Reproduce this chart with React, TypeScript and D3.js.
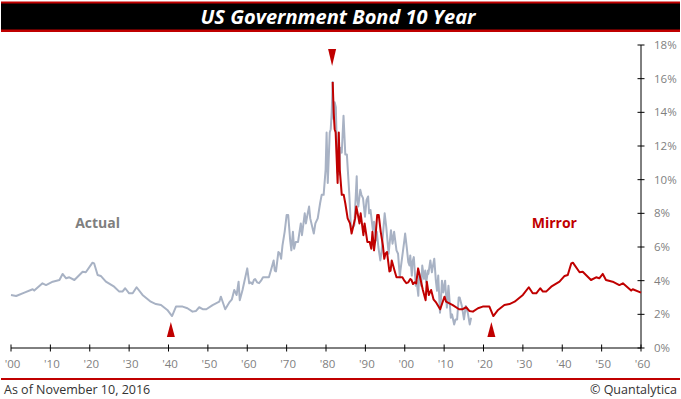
import React, { useEffect } from 'react';
import * as d3 from 'd3';

// actual 10y yield, [year, percent]
const actualSeries: [number, number][] = [
  [1900.0, 3.15], [1901.3, 3.09], [1903.4, 3.29], [1905.5, 3.49], [1905.9, 3.41],
  [1908.0, 3.84], [1908.9, 3.74], [1910.6, 3.94], [1912.3, 4.04], [1913.1, 4.4],
  [1914.0, 4.14], [1914.8, 4.2], [1916.1, 4.04], [1918.2, 4.53], [1919.0, 4.5],
  [1920.7, 5.07], [1921.1, 5.03], [1922.0, 4.34], [1922.8, 4.28], [1924.1, 3.94],
  [1926.2, 3.64], [1927.5, 3.35], [1928.3, 3.35], [1929.0, 3.55], [1930.0, 3.25],
  [1930.9, 3.25], [1931.9, 3.61], [1933.4, 3.15], [1935.5, 2.75], [1936.8, 2.61],
  [1938.1, 2.55], [1939.7, 2.26], [1940.9, 1.9], [1941.9, 2.46], [1943.6, 2.46],
  [1944.8, 2.36], [1946.1, 2.16], [1947.0, 2.2], [1947.8, 2.42], [1948.8, 2.3],
  [1949.6, 2.3], [1951.2, 2.55], [1952.9, 2.75], [1953.3, 3.05], [1953.6, 2.85],
  [1954.4, 2.3], [1955.4, 2.69], [1956.1, 2.89], [1956.7, 3.45], [1957.3, 3.15],
  [1957.8, 3.94], [1958.1, 2.84], [1958.8, 3.45], [1960.0, 4.73], [1960.5, 3.84],
  [1960.9, 3.9], [1961.3, 3.8], [1961.7, 4.05], [1962.0, 4.1], [1962.5, 3.9],
  [1963.0, 3.85], [1963.5, 4.0], [1964.0, 4.2], [1964.5, 4.2], [1965.0, 4.2],
  [1965.5, 4.2], [1966.0, 4.6], [1966.7, 5.2], [1967.0, 4.6], [1967.3, 4.55],
  [1967.9, 5.7], [1968.3, 5.6], [1968.6, 5.3], [1968.95, 6.1], [1969.5, 6.9],
  [1970.0, 7.9], [1970.4, 7.9], [1970.9, 6.4], [1971.2, 5.8], [1971.6, 6.9],
  [1971.9, 5.9], [1972.3, 6.3], [1972.9, 6.3], [1973.6, 7.4], [1973.9, 6.7],
  [1974.6, 8.0], [1974.9, 7.4], [1975.2, 7.8], [1975.7, 8.4], [1976.0, 7.7],
  [1976.9, 6.8], [1977.3, 7.4], [1977.9, 7.7], [1978.5, 8.6], [1978.9, 9.1],
  [1979.4, 9.1], [1979.9, 10.6], [1980.15, 12.8], [1980.45, 9.8], [1980.95, 12.8],
  [1981.2, 13.0], [1981.45, 14.0], [1981.7, 15.8], [1981.9, 13.6], [1982.2, 14.6],
  [1982.5, 14.3], [1982.9, 10.4], [1983.3, 10.3], [1983.6, 11.9], [1984.0, 11.6],
  [1984.45, 13.8], [1984.9, 11.5], [1985.3, 11.5], [1985.9, 9.2], [1986.3, 7.3],
  [1986.65, 7.1], [1986.95, 7.2], [1987.2, 7.3], [1987.8, 10.2], [1987.95, 8.9],
  [1988.2, 8.4], [1988.7, 9.4], [1989.0, 9.1], [1989.4, 8.9], [1989.9, 7.8],
  [1990.3, 8.8], [1990.7, 9.0], [1990.95, 8.0], [1991.3, 8.2], [1991.9, 7.0],
  [1992.2, 7.5], [1992.7, 6.4], [1992.9, 6.9], [1993.3, 6.0], [1993.8, 5.2],
  [1994.1, 5.7], [1994.9, 8.0], [1995.3, 7.2], [1995.9, 5.6], [1996.5, 7.0],
  [1996.9, 6.2], [1997.3, 6.9], [1997.9, 5.8], [1998.3, 5.6], [1998.75, 4.2],
  [1998.9, 4.6], [1999.9, 6.4], [2000.1, 6.8], [2000.5, 6.0], [2000.9, 5.1],
  [2001.2, 4.9], [2001.4, 5.5], [2001.8, 4.3], [2001.95, 5.1], [2002.3, 5.4],
  [2002.8, 3.7], [2003.0, 4.0], [2003.45, 3.1], [2003.65, 4.5], [2004.2, 3.7],
  [2004.45, 4.9], [2004.9, 4.1], [2005.2, 4.6], [2005.45, 3.9], [2005.9, 4.6],
  [2006.0, 4.4], [2006.5, 5.2], [2006.9, 4.5], [2007.1, 4.8], [2007.5, 5.3],
  [2007.9, 4.0], [2008.2, 3.4], [2008.5, 4.3], [2008.95, 2.1], [2009.2, 2.9],
  [2009.45, 4.0], [2009.8, 3.3], [2010.25, 4.0], [2010.7, 2.4], [2011.1, 3.7],
  [2011.7, 1.8], [2012.0, 2.0], [2012.55, 1.4], [2012.9, 1.7], [2013.3, 1.7],
  [2013.7, 3.0], [2013.95, 3.0], [2014.5, 2.5], [2015.05, 1.7], [2015.5, 2.5],
  [2016.0, 2.1], [2016.5, 1.4], [2016.86, 1.8],
];

// mirrored path, [year, percent]
const mirrorSeries: [number, number][] = [
  [1981.7, 15.8], [1981.95, 14.0], [1982.2, 13.0], [1982.45, 12.8], [1982.95, 9.8],
  [1983.25, 12.8], [1983.5, 10.6], [1984.0, 9.1], [1984.5, 9.1], [1984.9, 8.6],
  [1985.5, 7.7], [1986.1, 7.4], [1986.5, 6.8], [1987.4, 7.7], [1987.7, 8.4],
  [1988.2, 7.8], [1988.5, 7.4], [1988.8, 8.0], [1989.5, 6.7], [1989.8, 7.4],
  [1990.5, 6.3], [1991.1, 6.3], [1991.5, 5.9], [1991.8, 6.9], [1992.2, 5.8],
  [1992.5, 6.4], [1993.0, 7.9], [1993.4, 7.9], [1993.9, 6.9], [1994.45, 6.1],
  [1994.8, 5.3], [1995.1, 5.6], [1995.5, 5.7], [1996.1, 4.55], [1996.4, 4.6],
  [1996.7, 5.2], [1997.4, 4.6], [1997.9, 4.2], [1998.4, 4.2], [1998.9, 4.2],
  [1999.4, 4.2], [1999.9, 4.0], [2000.4, 3.85], [2000.9, 3.9], [2001.4, 4.1],
  [2001.7, 4.05], [2002.1, 3.8], [2002.5, 3.9], [2002.9, 3.84], [2003.4, 4.73],
  [2004.6, 3.45], [2005.3, 2.84], [2005.6, 3.94], [2006.1, 3.15], [2006.7, 3.45],
  [2007.3, 2.89], [2008.0, 2.69], [2009.0, 2.3], [2009.8, 2.85], [2010.1, 3.05],
  [2010.5, 2.75], [2012.2, 2.55], [2013.8, 2.3], [2014.6, 2.3], [2015.6, 2.42],
  [2016.4, 2.2], [2017.3, 2.16], [2018.6, 2.36], [2019.8, 2.46], [2021.5, 2.46],
  [2022.5, 1.9], [2023.7, 2.26], [2025.3, 2.55], [2026.6, 2.61], [2027.9, 2.75],
  [2030.0, 3.15], [2031.5, 3.61], [2032.5, 3.25], [2033.4, 3.25], [2034.4, 3.55],
  [2035.1, 3.35], [2035.9, 3.35], [2037.2, 3.64], [2039.3, 3.94], [2040.6, 4.28],
  [2041.4, 4.34], [2042.3, 5.03], [2042.7, 5.07], [2044.4, 4.5], [2045.2, 4.53],
  [2047.3, 4.04], [2048.6, 4.2], [2049.4, 4.14], [2050.3, 4.4], [2051.1, 4.04],
  [2052.8, 3.94], [2054.5, 3.74], [2055.4, 3.84], [2057.5, 3.41], [2057.9, 3.49],
  [2060.0, 3.29],
];

const xTickYears = d3.range(1900, 2061, 10);
const xTickLabels = ["'00", "'10", "'20", "'30", "'40", "'50", "'60", "'70", "'80", "'90",
  "'00", "'10", "'20", "'30", "'40", "'50", "'60"];
const yTicks = [0, 2, 4, 6, 8, 10, 12, 14, 16, 18];

// turning points flagged with triangles
const markers = [
  { year: 1940.6, dir: 'up' },
  { year: 1981.55, dir: 'down' },
  { year: 2022.0, dir: 'up' },
];

const RED = '#c00000';
const GRAY = '#a8b2c4';

export default function App() {
  useEffect(() => {
    document.body.style.margin = '0';
  }, []);

  const width = 681;
  const height = 399;

  const x = d3.scaleLinear().domain([1900, 2060]).range([11, 641]);
  const y = d3.scaleLinear().domain([0, 18]).range([348, 45]);

  const line = d3
    .line<[number, number]>()
    .x((d) => x(d[0]))
    .y((d) => y(d[1]))
    .curve(d3.curveLinear);

  const tri = (m: { year: number; dir: string }) => {
    const cx = x(m.year);
    if (m.dir === 'up') {
      const tip = y(1.55);
      return `M${cx},${tip} L${cx + 4},${tip + 15} L${cx - 4},${tip + 15} Z`;
    }
    const tip = y(16.75);
    return `M${cx},${tip} L${cx + 4},${tip - 17} L${cx - 4},${tip - 17} Z`;
  };

  const axisFont = "'Open Sans', 'DejaVu Sans', sans-serif";

  return (
    <svg width={width} height={height} style={{ display: 'block', background: '#fff' }}>
      {/* title bar */}
      <rect x={1} y={1.5} width={679} height={30.5} fill={RED} />
      <rect x={1} y={3.5} width={679} height={26} fill="#000" />
      <text
        x={338}
        y={23.5}
        textAnchor="middle"
        fill="#fff"
        fontFamily="'Open Sans', Lato, sans-serif"
        fontStyle="italic"
        fontWeight="bold"
        fontSize={20}
      >
        US Government Bond 10 Year
      </text>

      {/* axes */}
      <line x1={x(1900)} x2={x(2060)} y1={y(0)} y2={y(0)} stroke="#000" strokeWidth={1} />
      <line x1={x(2060)} x2={x(2060)} y1={y(18)} y2={y(0)} stroke="#000" strokeWidth={1} />
      {xTickYears.map((yr, i) => (
        <g key={yr}>
          <line x1={x(yr)} x2={x(yr)} y1={y(0) - 3.5} y2={y(0) + 3.5} stroke="#000" />
          <text
            x={x(yr) + 1.5}
            y={368}
            textAnchor="middle"
            fill="#7f7f7f"
            fontFamily={axisFont}
            fontSize={11.5}
          >
            {xTickLabels[i]}
          </text>
        </g>
      ))}
      {yTicks.map((t) => (
        <g key={t}>
          <line x1={x(2060) - 3.5} x2={x(2060) + 3.5} y1={y(t)} y2={y(t)} stroke="#000" />
          <text
            x={654}
            y={y(t)}
            dy="0.35em"
            fill="#7f7f7f"
            fontFamily={axisFont}
            fontSize={11.5}
          >
            {t}%
          </text>
        </g>
      ))}

      {/* series */}
      <path d={line(actualSeries) ?? ''} fill="none" stroke={GRAY} strokeWidth={2} strokeLinejoin="round" />
      <path d={line(mirrorSeries) ?? ''} fill="none" stroke={RED} strokeWidth={2} strokeLinejoin="round" />

      {markers.map((m) => (
        <path key={m.year} d={tri(m)} fill={RED} />
      ))}

      <text x={x(1922)} y={y(7.4)} dy="0.35em" textAnchor="middle" fill="#7f7f7f"
        fontFamily={axisFont} fontWeight="bold" fontSize={14}>
        Actual
      </text>
      <text x={x(2038)} y={y(7.4)} dy="0.35em" textAnchor="middle" fill={RED}
        fontFamily={axisFont} fontWeight="bold" fontSize={14}>
        Mirror
      </text>

      {/* footer */}
      <rect x={1} y={378} width={679} height={2} fill={RED} />
      <text x={4} y={394} fill="#333" fontFamily={axisFont} fontSize={12.5}>
        As of November 10, 2016
      </text>
      <text x={677} y={394} textAnchor="end" fill="#333" fontFamily={axisFont} fontSize={12.5}>
        © Quantalytica
      </text>
    </svg>
  );
}
